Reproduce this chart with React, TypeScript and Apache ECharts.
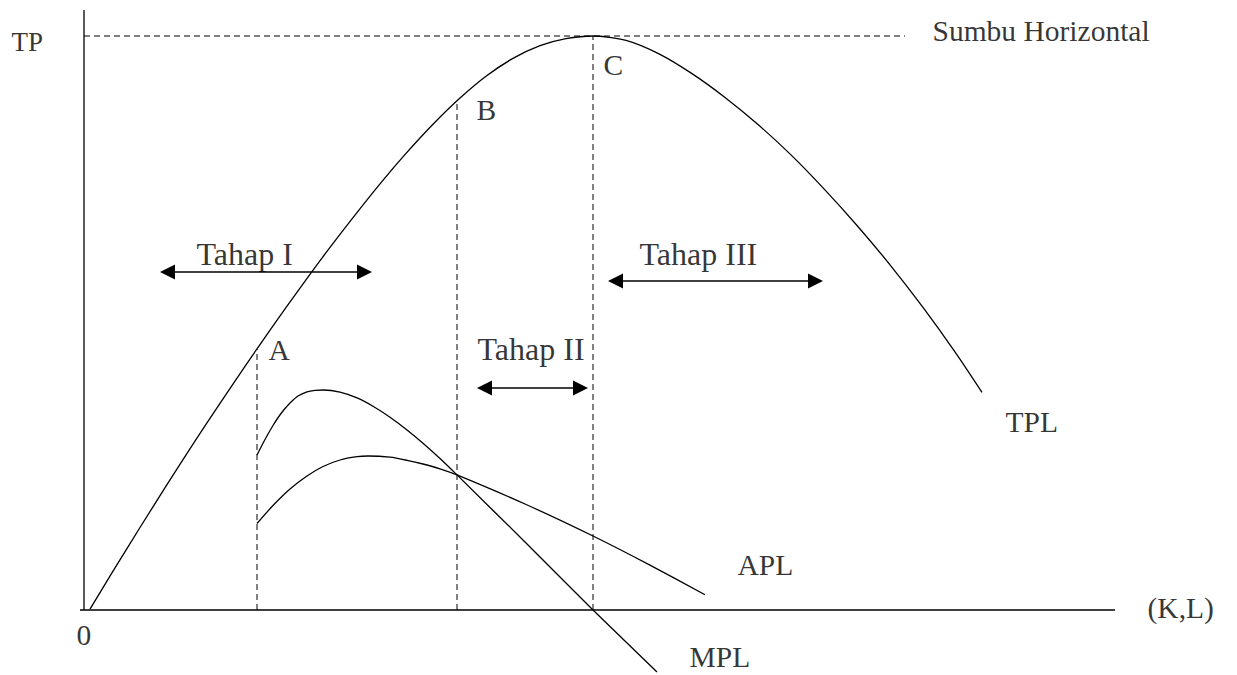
import React, { useEffect, useRef } from "react";
import * as echarts from "echarts";

// ---- Data (x = input K,L ; y = output) ----
const tplX = [0.06, 0.29, 0.56, 0.82, 1.09, 1.36, 1.62, 1.89, 2.16, 2.42, 2.69, 2.96, 3.22, 3.49, 3.76, 4.02, 4.29, 4.56, 4.82, 5.09, 5.42, 5.75, 6.08, 6.41, 6.74, 7.07, 7.4, 7.73, 8.06, 8.39, 8.72, 8.98];
const tplY = [0.08, 3.88, 8.25, 12.38, 16.59, 20.67, 24.52, 28.41, 32.19, 35.73, 39.24, 42.62, 45.66, 48.58, 51.2, 53.38, 55.16, 56.43, 57.13, 57.4, 56.97, 55.62, 53.64, 51.26, 48.55, 45.51, 42.11, 38.45, 34.52, 30.26, 25.67, 21.77];

const mplX = [1.73, 1.81, 1.89, 1.97, 2.06, 2.14, 2.23, 2.31, 2.39, 2.56, 2.73, 2.89, 3.06, 3.23, 3.39, 3.56, 3.73, 4.41, 5.09, 5.73];
const mplY = [15.5, 17.05, 18.45, 19.65, 20.7, 21.4, 21.82, 21.97, 22.0, 21.79, 21.21, 20.38, 19.28, 18.01, 16.68, 15.15, 13.51, 6.8, 0.0, -6.2];

const aplX = [1.73, 1.89, 2.06, 2.23, 2.39, 2.56, 2.73, 2.84, 3.06, 3.23, 3.39, 3.56, 3.73, 4.41, 5.09, 5.65, 6.21];
const aplY = [8.65, 10.45, 12.1, 13.4, 14.35, 15.0, 15.33, 15.4, 15.28, 14.97, 14.6, 14.12, 13.51, 10.6, 7.4, 4.54, 1.52];

// points A, B, C on TPL
const pointNames = ["A", "B", "C"];
const pointX = [1.73, 3.73, 5.09];
const pointY = [26.1, 50.9, 57.4];

// horizontal reference line (Sumbu Horizontal) extent
const horizontalEndX = 8.21;

// axes extents
const yAxisTop = 60;
const xAxisStart = -0.04;
const xAxisEnd = 10.31;

// stage arrows (tip to tip) and their height
const stageNames = ["Tahap I", "Tahap II", "Tahap III"];
const stageFrom = [0.76, 3.93, 5.24];
const stageTo = [2.88, 5.04, 7.39];
const stageY = [33.8, 22.2, 32.9];

// text annotations (anchor: left edge, vertical middle)
const stageLabelX = [1.13, 3.94, 5.56];
const stageLabelY = [35.6, 26.1, 35.6];

const otherLabels = ["Sumbu Horizontal", "C", "B", "A", "TPL", "APL", "MPL", "(K,L)", "0"];
const otherLabelX = [8.49, 5.2, 3.93, 1.85, 9.22, 6.54, 6.06, 10.64, -0.07];
const otherLabelY = [57.85, 54.5, 50.0, 26.0, 18.8, 4.5, -4.7, 0.2, -2.5];

const axisTitle = "TP";
const axisTitleX = -0.72;
const axisTitleY = 56.75;

const FONT = '"Liberation Serif", "Times New Roman", serif';
const HEAD = 15; // arrow head size in px
const HEAD_HALF_UNITS = 0.075; // half head length expressed in x units (100 px per unit)

const zip = (xs: number[], ys: number[]) => xs.map((x, i) => [x, ys[i]]);

export default function App() {
  const ref = useRef<HTMLDivElement>(null);

  useEffect(() => {
    if (!ref.current) return;
    const chart = echarts.init(ref.current, undefined, { renderer: "svg" });

    const solid = (name: string, data: number[][], width = 1.3, smooth: number | boolean = 0.25) => ({
      type: "line",
      name,
      data,
      smooth,
      symbol: "none",
      silent: true,
      lineStyle: { color: "#000", width },
      z: 3,
    });
    const dashed = (name: string, data: number[][]) => ({
      type: "line",
      name,
      data,
      symbol: "none",
      silent: true,
      lineStyle: { color: "#000", width: 1, type: [6, 4] },
      z: 2,
    });
    const textLayer = (items: { name: string; value: number[] }[], fontSize: number) => ({
      type: "scatter",
      silent: true,
      clip: false,
      symbolSize: 1,
      itemStyle: { color: "rgba(0,0,0,0)" },
      label: {
        show: true,
        formatter: "{b}",
        position: [0, 0],
        align: "left",
        verticalAlign: "middle",
        color: "#000",
        fontFamily: FONT,
        fontSize,
      },
      data: items,
      z: 5,
    });

    const series: any[] = [
      solid("yaxis", [[0, 0], [0, yAxisTop]], 1.3, false),
      solid("xaxis", [[xAxisStart, 0], [xAxisEnd, 0]], 1.5, false),
      dashed("horizontal", [[0, pointY[2]], [horizontalEndX, pointY[2]]]),
      ...pointNames.map((n, i) => dashed("v" + n, [[pointX[i], 0], [pointX[i], pointY[i]]])),
      solid("TPL", zip(tplX, tplY)),
      solid("MPL", zip(mplX, mplY)),
      solid("APL", zip(aplX, aplY)),
      {
        type: "lines",
        coordinateSystem: "cartesian2d",
        silent: true,
        symbol: ["triangle", "triangle"],
        symbolSize: HEAD,
        lineStyle: { color: "#000", width: 1.5, opacity: 1 },
        itemStyle: { color: "#000" },
        data: stageNames.map((n, i) => ({
          name: n,
          coords: [
            [stageFrom[i] + HEAD_HALF_UNITS, stageY[i]],
            [stageTo[i] - HEAD_HALF_UNITS, stageY[i]],
          ],
        })),
        z: 4,
      },
      textLayer(stageNames.map((n, i) => ({ name: n, value: [stageLabelX[i], stageLabelY[i]] })), 32),
      textLayer(otherLabels.map((n, i) => ({ name: n, value: [otherLabelX[i], otherLabelY[i]] })), 29.5),
      textLayer([{ name: axisTitle, value: [axisTitleX, axisTitleY] }], 27),
    ];

    chart.setOption({
      animation: false,
      backgroundColor: "#fff",
      grid: { left: 0, right: 0, top: 0, bottom: 0, outerBoundsMode: "none" },
      xAxis: { type: "value", min: -0.84, max: 11.53, show: false },
      yAxis: { type: "value", min: -6.5, max: 61, show: false },
      series,
    });

    return () => chart.dispose();
  }, []);

  return (
    <div
      ref={ref}
      style={{ position: "fixed", left: 0, top: 0, width: "1237px", height: "675px" }}
    />
  );
}
